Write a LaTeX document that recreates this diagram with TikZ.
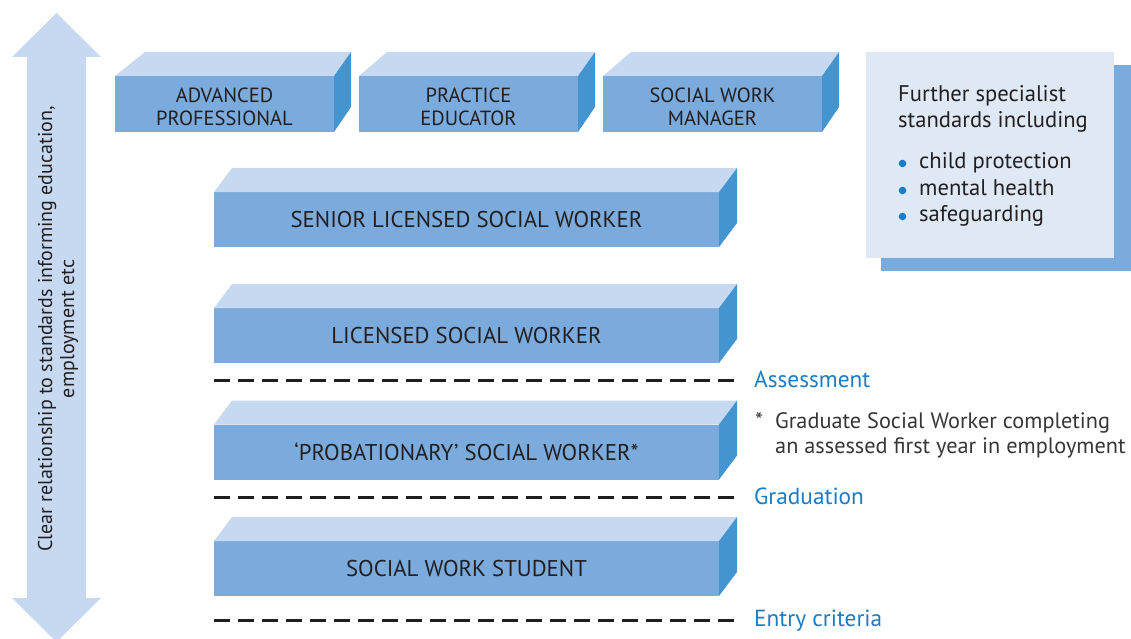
\documentclass[tikz,border=0pt]{standalone}
\usepackage{fontspec}
\setmainfont{PT Sans}
\usetikzlibrary{calc}
\definecolor{topc}{HTML}{C6D9F0}
\definecolor{frontc}{HTML}{7AABDC}
\definecolor{sidec}{HTML}{4494D0}
\definecolor{panelc}{HTML}{DFE9F6}
\definecolor{shadowc}{HTML}{7AABDC}
\definecolor{labblue}{HTML}{1B7BC4}
\definecolor{darktxt}{HTML}{231F20}
\definecolor{notetxt}{HTML}{363636}
\newcommand{\boxfaces}[4]{% name, dxL, dxR, depth
  \fill[topc] (#1.north west) -- ++(#2,-24) -- ($(#1.north east)+(#3,-24)$) -- (#1.north east) -- cycle;
  \fill[sidec] (#1.north east) -- ++(#3,-24) -- ++(0,#4) -- (#1.south east) -- cycle;
}
\begin{document}
\begin{tikzpicture}[x=1pt,y=-1pt,
  front/.style={fill=frontc, inner sep=0pt, outer sep=0pt},
  widebox/.style={front, minimum width=505pt, minimum height=55pt, text=darktxt,
    font=\fontsize{22.8}{26}\selectfont},
  smallbox/.style={front, minimum width=219pt, minimum height=56pt},
  boxlabel/.style={text=darktxt, align=center, inner sep=0pt, font=\fontsize{20.5}{23}\selectfont},
  stage/.style={text=labblue, anchor=base west, inner sep=0pt, font=\fontsize{23.3}{26}\selectfont},
  stageline/.style={draw=black!88, line width=3pt, dash pattern=on 16pt off 8pt},
  panel/.style={text=darktxt, anchor=base west, inner sep=0pt, font=\fontsize{22.6}{26}\selectfont},
  note/.style={text=notetxt, anchor=base west, inner sep=0pt, font=\fontsize{22.3}{26}\selectfont}]
\useasboundingbox (0,0) rectangle (1131,639);

% vertical double arrow
\fill[topc] (56.5,13) -- (101,57) -- (86,57) -- (86,598) -- (101,598) -- (56.5,642)
  -- (12,598) -- (27,598) -- (27,57) -- (12,57) -- cycle;
\node[rotate=90, align=center, text=darktxt, inner sep=0pt,
  font=\fontsize{20}{22}\selectfont] (arrowtxt) at (58,329)
  {Clear relationship to standards informing education,\\employment etc};

% top row
\node[smallbox] (adv) at (224.5,104) {};
\boxfaces{adv}{30}{17}{55}
\node[boxlabel] (advt) at ($(adv.center)+(0,3)$) {ADVANCED\\PROFESSIONAL};
\node[smallbox] (pe) at (468.5,104) {};
\boxfaces{pe}{28}{17}{55}
\node[boxlabel] (pet) at ($(pe.center)+(0,3)$) {PRACTICE\\EDUCATOR};
\node[smallbox] (swm) at (712.5,104) {};
\boxfaces{swm}{28}{17}{55}
\node[boxlabel] (swmt) at ($(swm.center)+(0,3)$) {SOCIAL WORK\\MANAGER};

% specialist panel
\fill[shadowc] (881,65) rectangle (1142,271);
\node[fill=panelc, minimum width=248pt, minimum height=206pt, inner sep=0pt, outer sep=0pt] (panel) at (990,155) {};
\node[panel] (p1) at (898,102) {Further specialist};
\node[panel] (p2) at (898,128) {standards including};
\node[panel] (b1) at (919,168) {child protection};
\node[panel] (b2) at (919,195) {mental health};
\node[panel] (b3) at (919,221) {safeguarding};
\fill[labblue] (902.5,163.5) circle (3.8pt);
\fill[labblue] (902.5,190.5) circle (3.8pt);
\fill[labblue] (902.5,216.5) circle (3.8pt);

% wide boxes
\node[widebox] (senior) at (466.5,219.5) {SENIOR LICENSED SOCIAL WORKER};
\boxfaces{senior}{18}{18}{55}
\node[widebox] (lic) at (466.5,335.5) {LICENSED SOCIAL WORKER};
\boxfaces{lic}{18}{18}{55}
\node[widebox] (prob) at (466.5,452) {`PROBATIONARY' SOCIAL WORKER*};
\boxfaces{prob}{18}{18}{55}
\node[widebox] (stud) at (466.5,568.5) {SOCIAL WORK STUDENT};
\boxfaces{stud}{18}{18}{55}

% stage lines
\coordinate (a1) at (214,380); \coordinate (a2) at (734,380);
\coordinate (g1) at (214,497); \coordinate (g2) at (734,497);
\coordinate (e1) at (214,620); \coordinate (e2) at (734,620);
\draw[stageline] (a1) -- (a2);
\draw[stageline] (g1) -- (g2);
\draw[stageline] (e1) -- (e2);
\node[stage] (assess) at (754,387) {Assessment};
\node[stage] (grad) at (754,504) {Graduation};
\node[stage] (entry) at (754,626) {Entry criteria};

% note
\node[note] (star) at (755,428) {*};
\node[note] (n1) at (775,428) {Graduate Social Worker completing};
\node[note] (n2) at (775,453) {an assessed first year in employment};
\end{tikzpicture}
\end{document}
